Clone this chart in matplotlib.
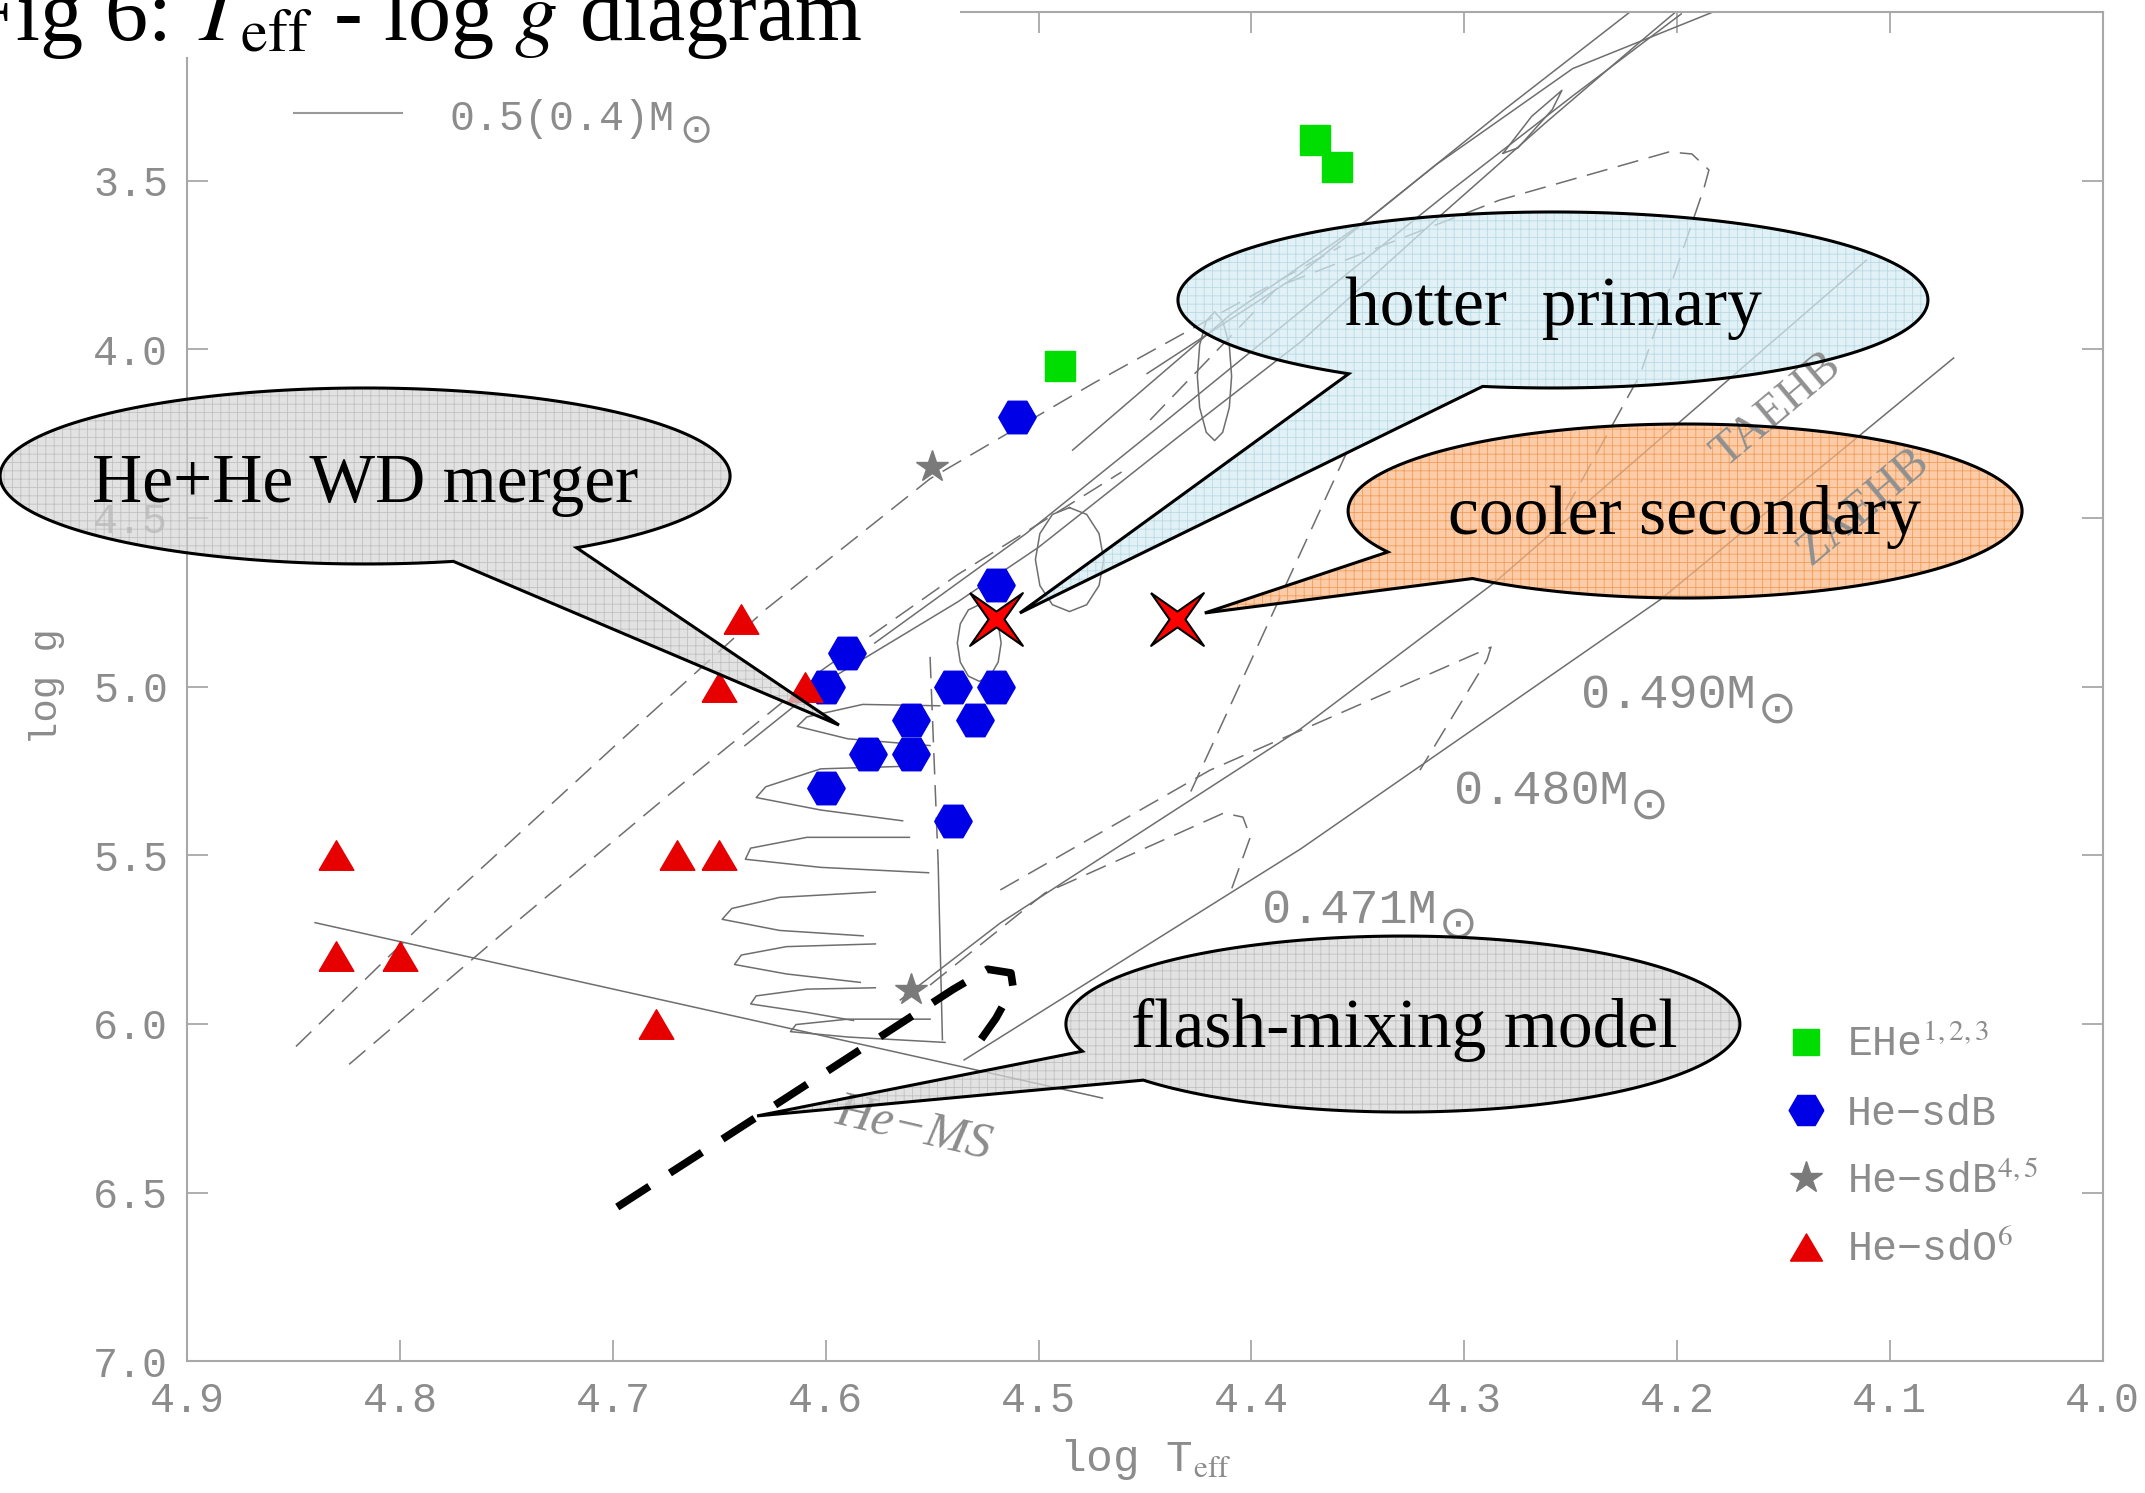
import numpy as np
import matplotlib
matplotlib.use("Agg")
import matplotlib.pyplot as plt
from matplotlib.patches import Polygon, Rectangle
from matplotlib.lines import Line2D
from matplotlib.path import Path

plt.rcParams['font.family'] = ['Liberation Mono', 'DejaVu Sans Mono', 'DejaVu Sans']
plt.rcParams['mathtext.fontset'] = 'stix'
plt.rcParams['hatch.linewidth'] = 0.6

# ---------------- observed stars ----------------
ehe_logt = [4.37, 4.36, 4.49]
ehe_logg = [3.38, 3.46, 4.05]
hesdb_logt = [4.51, 4.52, 4.59, 4.60, 4.54, 4.52, 4.53, 4.56, 4.58, 4.56, 4.60, 4.54]
hesdb_logg = [4.20, 4.70, 4.90, 5.00, 5.00, 5.00, 5.10, 5.10, 5.20, 5.20, 5.30, 5.40]
hesdb45_logt = [4.55, 4.56]
hesdb45_logg = [4.35, 5.90]
hesdo_logt = [4.64, 4.65, 4.61, 4.83, 4.67, 4.65, 4.83, 4.80, 4.68]
hesdo_logg = [4.80, 5.00, 5.00, 5.50, 5.50, 5.50, 5.80, 5.80, 6.00]
binary_logt = [4.52, 4.435]
binary_logg = [4.80, 4.80]

legend_labels = ['EHe$^{1,2,3}$', 'He\u2212sdB', 'He\u2212sdB$^{4,5}$', 'He\u2212sdO$^{6}$']

# ---------------- model tracks ----------------
hems_logt = [4.84, 4.47]
hems_logg = [5.70, 6.22]
merger1_logt = [4.849, 4.776, 4.699, 4.628, 4.551, 4.474, 4.410, 4.358]
merger1_logg = [6.067, 5.621, 5.175, 4.770, 4.384, 4.100, 3.877, 3.695]
merger2_logt = [4.824, 4.750, 4.673, 4.602, 4.538, 4.461]
merger2_logg = [6.120, 5.722, 5.317, 4.952, 4.668, 4.364]
up1_logt = [4.638, 4.602, 4.538, 4.500, 4.435, 4.377, 4.313, 4.262, 4.217, 4.194]
up1_logg = [5.175, 4.993, 4.749, 4.587, 4.263, 3.979, 3.614, 3.330, 3.087, 2.965]
up2_logt = [4.577, 4.506, 4.442, 4.371, 4.307, 4.249, 4.198]
up2_logg = [4.871, 4.547, 4.222, 3.857, 3.533, 3.249, 3.006]
up3_logt = [4.484, 4.410, 4.345, 4.281, 4.220]
up3_logg = [4.299, 3.898, 3.614, 3.289, 2.990]
up4_logt = [4.449, 4.377, 4.313, 4.249, 4.179]
up4_logg = [4.072, 3.776, 3.452, 3.168, 2.990]
taehb_logt = [4.565, 4.518, 4.377, 4.286, 4.111]
taehb_logg = [5.929, 5.701, 5.126, 4.693, 3.736]
zaehb_logt = [4.535, 4.377, 4.208, 4.070]
zaehb_logg = [6.107, 5.482, 4.743, 4.026]
m471_logt = [4.551, 4.497, 4.413, 4.404, 4.4005, 4.410]
m471_logg = [5.885, 5.612, 5.375, 5.387, 5.446, 5.612]
m480_logt = [4.518, 4.4195, 4.2874, 4.2893, 4.3208]
m480_logg = [5.603, 5.248, 4.883, 4.921, 5.248]
steep_logt = [4.355, 4.4289]
steep_logg = [4.303, 5.317]
topd_logt = [4.4476, 4.387, 4.2832, 4.2038, 4.193, 4.185, 4.1873, 4.2174, 4.255]
topd_logg = [4.2097, 3.8125, 3.5575, 3.4152, 3.4211, 3.4686, 3.522, 4.0763, 4.506]
core_logt = [4.5472, 4.5452]
core_logg = [5.524, 6.047]
cored_logt = [4.551, 4.5472]
cored_logg = [4.912, 5.524]
f1_logt = [4.5465, 4.5827, 4.6089, 4.6134, 4.5896, 4.551]
f1_logg = [5.057, 5.053, 5.090, 5.118, 5.155, 5.175]
f2_logt = [4.5607, 4.6024, 4.6282, 4.6327, 4.6024, 4.5639]
f2_logg = [5.236, 5.244, 5.297, 5.329, 5.366, 5.398]
f3_logt = [4.5607, 4.6089, 4.6353, 4.6378, 4.6024, 4.5517]
f3_logg = [5.447, 5.447, 5.479, 5.512, 5.536, 5.552]
f4_logt = [4.5767, 4.6217, 4.6442, 4.6487, 4.6217, 4.5825]
f4_logg = [5.609, 5.625, 5.658, 5.690, 5.723, 5.739]
f5_logt = [4.5767, 4.6185, 4.6397, 4.6429, 4.6185, 4.5838]
f5_logg = [5.763, 5.771, 5.796, 5.824, 5.852, 5.877]
f6_logt = [4.5767, 4.6089, 4.6327, 4.6353, 4.6089, 4.587]
f6_logg = [5.893, 5.897, 5.917, 5.941, 5.966, 5.990]
f7_logt = [4.551, 4.5896, 4.614, 4.6166, 4.5896, 4.544]
f7_logg = [5.986, 5.986, 6.002, 6.023, 6.039, 6.055]
loopa_logt = [4.4855, 4.4774, 4.4716, 4.4694, 4.4716, 4.4774, 4.4855, 4.4935, 4.4994, 4.5015, 4.4994, 4.4935, 4.4855]
loopa_logg = [4.4695, 4.4897, 4.5465, 4.6236, 4.7006, 4.7574, 4.7777, 4.7574, 4.7006, 4.6236, 4.5465, 4.4897, 4.4695]
loopb_logt = [4.5279, 4.5228, 4.5190, 4.5176, 4.5190, 4.5228, 4.5279, 4.5330, 4.5368, 4.5382, 4.5368, 4.5330, 4.5279]
loopb_logg = [4.7574, 4.7728, 4.8141, 4.8709, 4.9277, 4.9691, 4.9845, 4.9691, 4.9277, 4.8709, 4.8141, 4.7728, 4.7574]
loopd_logt = [4.4173, 4.4135, 4.4104, 4.4093, 4.4104, 4.4135, 4.4173, 4.4212, 4.4243, 4.4254, 4.4243, 4.4212, 4.4173]
loopd_logg = [3.8896, 3.9159, 3.9869, 4.0802, 4.1734, 4.2464, 4.2708, 4.2464, 4.1734, 4.0802, 3.9869, 3.9159, 3.8896]
loope_logt = [4.2817, 4.2683, 4.2541, 4.2586, 4.2747, 4.2817]
loope_logg = [3.419, 3.3097, 3.2326, 3.2894, 3.403, 3.419]
flash_logt = [4.698, 4.631, 4.540, 4.524, 4.513, 4.512, 4.520, 4.531]
flash_logg = [6.543, 6.270, 5.897, 5.838, 5.849, 5.891, 5.983, 6.081]
key_logt = [4.850, 4.799]
key_logg = [3.30, 3.30]

xticks = [4.9, 4.8, 4.7, 4.6, 4.5, 4.4, 4.3, 4.2, 4.1, 4.0]
yticks = [3.5, 4.0, 4.5, 5.0, 5.5, 6.0, 6.5, 7.0]

# ---------------- figure ----------------
W, H, DPI = 2145, 1493, 100
fig = plt.figure(figsize=(W / DPI, H / DPI), dpi=DPI)
fig.patch.set_facecolor('white')
ax = fig.add_axes([187.4 / W, 1 - 1361.2 / H, (2102.6 - 187.4) / W, (1361.2 - 11.9) / H])
ax.set_xlim(4.9, 4.0)
ax.set_ylim(7.0, 3.0)

spc = '#a8a8a8'
for s in ax.spines.values():
    s.set_color(spc)
    s.set_linewidth(1.5)
ax.set_xticks(xticks)
ax.set_xticklabels(['%.1f' % v for v in xticks])
ax.set_yticks(yticks)
ax.set_yticklabels(['%.1f' % v for v in yticks])
ax.tick_params(direction='in', length=15, width=1.3, color=spc, top=True, right=True,
               labelsize=30, labelcolor='#8c8c8c', pad=14)
ax.set_xlabel(r'log T$_{\mathrm{eff}}$', fontsize=32, color='#8c8c8c')
ax.xaxis.set_label_coords(0.5, -0.056)
ax.set_ylabel('log g', fontsize=28, color='#8c8c8c')
ax.yaxis.set_label_coords(-0.064, 0.5)

tc = '#6e6e6e'
solid = [(hems_logt, hems_logg), (up1_logt, up1_logg), (up2_logt, up2_logg), (up3_logt, up3_logg),
         (up4_logt, up4_logg), (taehb_logt, taehb_logg), (zaehb_logt, zaehb_logg),
         (core_logt, core_logg), (f1_logt, f1_logg), (f2_logt, f2_logg), (f3_logt, f3_logg),
         (f4_logt, f4_logg), (f5_logt, f5_logg), (f6_logt, f6_logg), (f7_logt, f7_logg),
         (loopa_logt, loopa_logg), (loopb_logt, loopb_logg),
         (loopd_logt, loopd_logg), (loope_logt, loope_logg)]
dashed = [(merger1_logt, merger1_logg), (merger2_logt, merger2_logg), (m471_logt, m471_logg),
          (m480_logt, m480_logg), (steep_logt, steep_logg), (topd_logt, topd_logg),
          (cored_logt, cored_logg)]
for t, g in solid:
    ax.plot(t, g, color=tc, lw=1.1, zorder=2)
for t, g in dashed:
    ax.plot(t, g, color=tc, lw=1.1, ls=(0, (14, 7)), zorder=2)
ax.plot(key_logt, key_logg, color='#9a9a9a', lw=1.5, zorder=2, clip_on=False)

ax.plot(flash_logt, flash_logg, color='black', lw=5.5, ls=(0, (5, 3.2)), zorder=5,
        solid_capstyle='butt', dash_capstyle='butt')

# markers
hexv = [(1, 0), (0.5, 0.866), (-0.5, 0.866), (-1, 0), (-0.5, -0.866), (0.5, -0.866), (1, 0)]
hex_marker = Path(hexv)
tri_marker = Path([(-1, -0.85), (1, -0.85), (0, 0.85), (-1, -0.85)])
xstar_marker = Path([(-1, 1), (0, 0.3), (1, 1), (0.3, 0), (1, -1), (0, -0.3), (-1, -1), (-0.3, 0), (-1, 1)])

green, blue, grey, red = '#00dd00', '#0000e6', '#7a7a7a', '#e60000'
ax.plot(ehe_logt, ehe_logg, ls='none', marker='s', ms=21, mfc=green, mec=green, zorder=4)
ax.plot(hesdb_logt, hesdb_logg, ls='none', marker=hex_marker, ms=27, mfc=blue, mec=blue, zorder=4)
ax.plot(hesdb45_logt, hesdb45_logg, ls='none', marker='*', ms=24, mfc=grey, mec=grey, zorder=4)
ax.plot(hesdo_logt, hesdo_logg, ls='none', marker=tri_marker, ms=25, mfc=red, mec=red, zorder=4)
ax.plot(binary_logt, binary_logg, ls='none', marker=xstar_marker, ms=38, mfc='#ff0000',
        mec='black', mew=1.5, zorder=9)

handles = [Line2D([], [], ls='none', marker='s', ms=19, mfc=green, mec=green),
           Line2D([], [], ls='none', marker=hex_marker, ms=25, mfc=blue, mec=blue),
           Line2D([], [], ls='none', marker='*', ms=24, mfc=grey, mec=grey),
           Line2D([], [], ls='none', marker=tri_marker, ms=23, mfc=red, mec=red)]
ax.legend(handles, legend_labels, loc='upper left', bbox_to_anchor=(0.834, 0.249), frameon=False,
          prop={'family': ['Liberation Mono', 'DejaVu Sans Mono'], 'size': 30}, labelcolor='#8c8c8c',
          handlelength=1.0, handletextpad=0.5, labelspacing=0.68, borderpad=0, borderaxespad=0)

# text labels on the diagram
lc = '#8c8c8c'
def mass_label(t, g, s, fs, dx):
    ax.text(t, g, s, fontsize=fs, color=lc, ha='left', va='baseline', zorder=3)
    ax.annotate('\u2299', xy=(t, g), xytext=(dx, -0.3 * fs), textcoords='offset points',
                fontsize=fs * 0.95, color=lc, ha='left', va='baseline', family='DejaVu Sans', zorder=3,
                annotation_clip=False)

mass_label(4.777, 3.350, '0.5(0.4)M', 30, 166)
mass_label(4.245, 5.064, '0.490M', 35, 127)
mass_label(4.305, 5.348, '0.480M', 35, 127)
mass_label(4.395, 5.701, '0.471M', 35, 127)
ax.text(4.153, 4.180, 'TAEHB', rotation=40, rotation_mode='anchor', ha='center', va='center',
        family='Liberation Serif', fontsize=34, color='#909090', zorder=6.5)
ax.text(4.112, 4.468, 'ZAEHB', rotation=40, rotation_mode='anchor', ha='center', va='center',
        family='Liberation Serif', fontsize=34, color='#909090', zorder=6.5)
ax.text(4.5585, 6.309, 'He\u2212MS', rotation=-13, rotation_mode='anchor', ha='center', va='center',
        family='Liberation Serif', style='italic', fontsize=36, color='#8c8c8c', zorder=3)

# ---------------- callout bubbles ----------------
def bubble(center, a_px, b_px, ang_a, ang_b, tip, face, hatchc, text, text_t, text_g):
    cx, cy = ax.transData.transform(center)
    th = np.radians(np.linspace(ang_b, ang_a + 360, 240))
    xs = cx + a_px * np.cos(th)
    ys = cy + b_px * np.sin(th)
    tx, ty = ax.transData.transform(tip)
    verts = np.column_stack([np.append(xs, tx), np.append(ys, ty)])
    dverts = ax.transData.inverted().transform(verts)
    ax.add_patch(Polygon(dverts, closed=True, facecolor=face, edgecolor=hatchc, hatch='++', lw=0,
                         alpha=0.72, clip_on=False, zorder=6))
    ax.add_patch(Polygon(dverts, closed=True, fill=False, edgecolor='black', lw=2.2,
                         clip_on=False, zorder=7))
    ax.text(text_t, text_g, text, fontsize=50, family='Liberation Serif', color='black',
            ha='center', va='baseline', zorder=8, clip_on=False)

bubble((4.8165, 4.3758), 365, 88, -76, -54.6, (4.5938, 5.1142), '#d8d8d8', '#b4b4b4',
       'He+He WD merger', 4.8165, 4.453)
bubble((4.2583, 3.854), 375, 88, -123, -100.8, (4.5088, 4.7819), '#d6ecf2', '#a9d3df',
       'hotter  primary', 4.2583, 3.928)
bubble((4.1962, 4.4796), 337, 87, -151.9, -129.1, (4.4219, 4.7819), '#fbb987', '#f08a3c',
       'cooler secondary', 4.1967, 4.548)
bubble((4.3288, 6.0005), 337, 88, -162, -140.4, (4.6323, 6.2729), '#d8d8d8', '#b4b4b4',
       'flash-mixing model', 4.328, 6.069)

# ---------------- title ----------------
fig.add_artist(Rectangle((0, 1 - 57 / H), 960 / W, 57 / H, transform=fig.transFigure,
                         facecolor='white', edgecolor='none', zorder=5))
fig.text(-0.015, 1 - 40 / H, r'Fig 6: $T_{\mathrm{eff}}$ - log $g$ diagram', fontsize=62,
         family='Liberation Serif', color='black', ha='left', va='baseline', zorder=10)

fig.savefig('out.png', dpi=DPI, facecolor='white')
